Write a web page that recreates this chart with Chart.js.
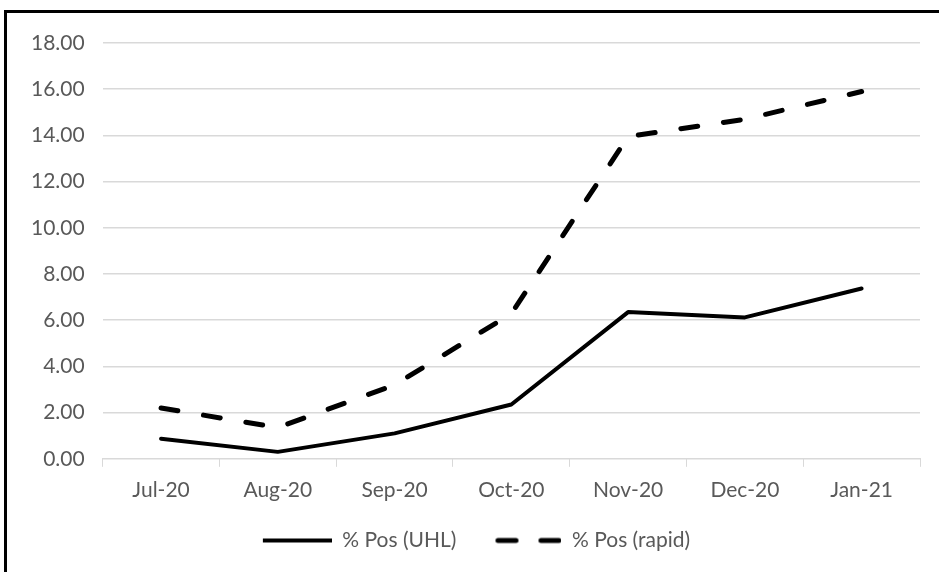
<!DOCTYPE html>
<html>
<head>
<meta charset="utf-8">
<script src="https://cdn.jsdelivr.net/npm/chart.js@4"></script>
<style>
    html, body { margin: 0; padding: 0; background: #fff; overflow: hidden; }
    #wrap { position: relative; width: 939px; height: 572px; }
    #frame {
        position: absolute; left: 4px; top: 10px; width: 1200px; height: 900px;
        border-left: 3px solid #000; border-top: 3px solid #000; pointer-events: none;
    }
    canvas { position: absolute; left: 0; top: 0; }
</style>
</head>
<body>
<div id="wrap">
    <canvas id="chart" width="939" height="572"></canvas>
    <div id="frame"></div>
</div>
<script>
// Months on the x axis
const months = ['Jul-20', 'Aug-20', 'Sep-20', 'Oct-20', 'Nov-20', 'Dec-20', 'Jan-21'];
// % positive, UHL lab tests
const posUHL = [0.87, 0.30, 1.10, 2.35, 6.35, 6.12, 7.37];
// % positive, rapid tests
const posRapid = [2.20, 1.35, 3.20, 6.28, 13.95, 14.70, 15.90];

const textColor = '#595959';
const fontFamily = "Lato, 'Open Sans', sans-serif";
const fontSize = 21;

// small canvas used as legend marker (leading blank keeps items apart)
const markW = 89;
function legendLine(dashed) {
    const c = document.createElement('canvas');
    c.width = markW;
    c.height = 10;
    const g = c.getContext('2d');
    g.strokeStyle = '#000';
    g.beginPath();
    if (dashed) {
        g.lineWidth = 5;
        g.lineCap = 'round';
        g.setLineDash([18, 25]);
        g.moveTo(markW - 63.5, 5);
        g.lineTo(markW - 2, 5);
    } else {
        g.lineWidth = 4;
        g.moveTo(markW - 69, 5);
        g.lineTo(markW, 5);
    }
    g.stroke();
    return c;
}
const legendMarks = [legendLine(false), legendLine(true)];

const ctx = document.getElementById('chart').getContext('2d');
new Chart(ctx, {
    type: 'line',
    data: {
        labels: months,
        datasets: [
            {
                label: '% Pos (UHL)',
                data: posUHL,
                borderColor: '#000',
                backgroundColor: '#000',
                borderWidth: 4,
                borderCapStyle: 'round',
                borderJoinStyle: 'round',
                pointRadius: 0,
                tension: 0
            },
            {
                label: '% Pos (rapid)',
                data: posRapid,
                borderColor: '#000',
                backgroundColor: '#000',
                borderWidth: 5,
                borderDash: [17, 26],
                borderCapStyle: 'round',
                borderJoinStyle: 'round',
                pointRadius: 0,
                tension: 0
            }
        ]
    },
    options: {
        responsive: false,
        animation: false,
        layout: {
            padding: { left: 13, right: 19, top: 43, bottom: 11 }
        },
        plugins: {
            legend: {
                position: 'bottom',
                labels: {
                    usePointStyle: true,
                    pointStyleWidth: markW,
                    boxWidth: markW,
                    padding: 16,
                    color: textColor,
                    font: { family: fontFamily, size: fontSize },
                    generateLabels: chart => {
                        const items = Chart.defaults.plugins.legend.labels.generateLabels(chart);
                        items.forEach((item, i) => { item.pointStyle = legendMarks[i]; });
                        return items;
                    }
                }
            },
            tooltip: { enabled: false }
        },
        scales: {
            x: {
                offset: true,
                grid: {
                    offset: true,
                    drawOnChartArea: false,
                    drawTicks: true,
                    tickLength: 8,
                    color: '#d9d9d9'
                },
                border: { display: true, color: '#d9d9d9', width: 1 },
                ticks: {
                    color: textColor,
                    padding: 11,
                    maxRotation: 0,
                    font: { family: fontFamily, size: fontSize }
                }
            },
            y: {
                min: 0,
                max: 18,
                grid: {
                    color: '#d9d9d9',
                    lineWidth: 1.5,
                    drawTicks: false
                },
                border: { display: false },
                ticks: {
                    stepSize: 2,
                    padding: 18,
                    color: textColor,
                    font: { family: fontFamily, size: fontSize },
                    callback: v => v.toFixed(2)
                }
            }
        }
    }
});
</script>
</body>
</html>
